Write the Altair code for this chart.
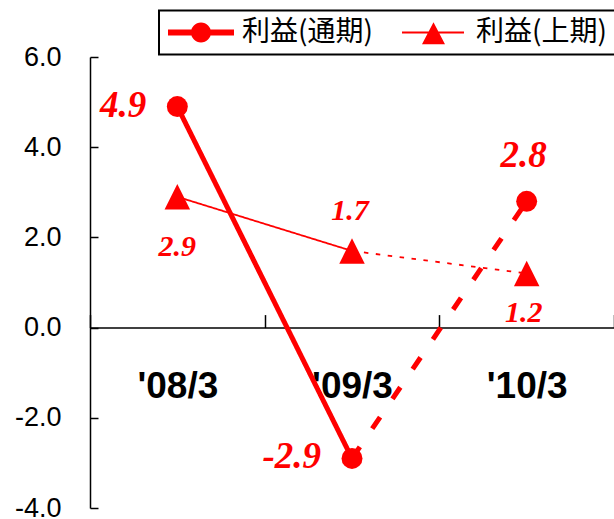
import altair as alt
import pandas as pd

# --- data -------------------------------------------------------------
categories = ["'08/3", "'09/3", "'10/3"]
full_year = [4.9, -2.9, 2.8]      # 利益(通期)
first_half = [2.9, 1.7, 1.2]      # 利益(上期)
series_names = ["利益(通期)", "利益(上期)"]
y_ticks = [-4.0, -2.0, 0.0, 2.0, 4.0, 6.0]

RED = "#ff0000"
W, H = 524, 451
Y_MIN, Y_MAX = -4.0, 6.0

series_values = {series_names[0]: full_year, series_names[1]: first_half}

points = pd.DataFrame(
    [
        {"series": s, "cat": c, "value": v, "pid": s + c}
        for s in series_names
        for c, v in zip(categories, series_values[s])
    ]
)

# each series: first segment actual (solid), second segment forecast (broken)
seg_rows = []
for s in series_names:
    vals = series_values[s]
    for i in range(len(categories) - 1):
        kind = "actual" if i == 0 else "forecast"
        for j in (i, i + 1):
            seg_rows.append(
                {"series": s, "cat": categories[j], "value": vals[j],
                 "seg": f"{s}-{i}", "key": f"{s}|{kind}"}
            )
segments = pd.DataFrame(seg_rows)

dash_keys = [f"{series_names[0]}|actual", f"{series_names[0]}|forecast",
             f"{series_names[1]}|actual", f"{series_names[1]}|forecast"]
dash_styles = [[1, 0], [14, 22], [1, 0], [4.5, 7.5]]
dash_widths = [5, 5, 1.8, 1.8]

# --- shared encodings ---------------------------------------------------
MINUS_FIX = "replace(format(datum.value, '.1f'), '\u2212', '-')"

x_enc = alt.X(
    "cat:N",
    sort=categories,
    bandPosition=0.5,
    scale=alt.Scale(type="band", domain=categories, paddingInner=0, paddingOuter=0),
    axis=alt.Axis(
        orient="top",
        offset=-H * Y_MAX / (Y_MAX - Y_MIN),   # axis line sits on y = 0
        title=None,
        grid=False,
        domainColor="black",
        domainWidth=1.5,
        tickColor="black",
        tickWidth=1.5,
        tickSize=13,
        tickBand="extent",
        labelAngle=0,
        labelFont="Liberation Sans",
        labelFontWeight="bold",
        labelFontSize=37,
        labelColor="black",
        labelPadding=-83,
        labelBaseline="alphabetic",
        labelOverlap=False,
    ),
)

y_enc = alt.Y(
    "value:Q",
    scale=alt.Scale(domain=[Y_MIN, Y_MAX], nice=False, zero=False),
    axis=alt.Axis(
        orient="right",
        offset=-W,                      # axis drawn on the left edge, ticks pointing in
        title=None,
        grid=False,
        values=y_ticks,
        labelExpr=MINUS_FIX,
        domainColor="black",
        domainWidth=1.5,
        tickColor="black",
        tickWidth=1.5,
        tickSize=8,
        labelPadding=-37,
        labelAlign="right",
        labelBaseline="middle",
        labelFont="Liberation Sans",
        labelFontSize=27,
        labelColor="black",
        labelFlush=False,
        labelOverlap=False,
    ),
)

# --- lines ----------------------------------------------------------------
lines = alt.Chart(segments).mark_line(color=RED).encode(
    x=x_enc,
    y=y_enc,
    detail="seg:N",
    strokeWidth=alt.StrokeWidth(
        "key:N",
        scale=alt.Scale(type="ordinal", domain=dash_keys, range=dash_widths),
        legend=None,
    ),
    strokeDash=alt.StrokeDash(
        "key:N",
        scale=alt.Scale(type="ordinal", domain=dash_keys, range=dash_styles),
        legend=None,
    ),
)

TRIANGLE = "M0,-1L1,1L-1,1Z"

circles = alt.Chart(points).mark_point(
    shape="circle", filled=True, size=440, color=RED, opacity=1
).encode(x=x_enc, y=y_enc).transform_filter(
    alt.datum.series == series_names[0]
)

triangles = alt.Chart(points).mark_point(
    shape=TRIANGLE, filled=True, size=650, color=RED, opacity=1
).encode(x=x_enc, y=y_enc).transform_filter(
    alt.datum.series == series_names[1]
)

# legend symbols: a line with its marker; drawn in units of 13 px from the
# nominal symbol centre so the symbol row stays short
LEG_A = ("M-1,-0.23H4.077V0.23H-1Z "
         "M0.769,0A0.769,0.769 0 1,1 2.308,0A0.769,0.769 0 1,1 0.769,0Z")
LEG_B = ("M-1,-0.07H3.769V0.07H-1Z "
         "M1.423,-0.79L2.308,0.9L0.538,0.9Z")

legend_layer = alt.Chart(points).transform_calculate(
    entry="datum.series"
).mark_point(
    filled=True, color=RED, size=0
).encode(
    x=x_enc,
    y=y_enc,
    shape=alt.Shape(
        "entry:N",
        scale=alt.Scale(domain=series_names, range=[LEG_A, LEG_B]),
        legend=alt.Legend(
            title=None,
            orient="none",
            legendX=69,
            legendY=-46.5,
            direction="horizontal",
            columns=2,
            columnPadding=28,
            padding=8,
            strokeColor="black",
            fillColor="white",
            symbolSize=676,
            symbolFillColor=RED,
            symbolStrokeWidth=0,
            symbolOpacity=1,
            labelFont="Noto Sans CJK JP",
            labelFontSize=28,
            labelColor="black",
            labelOffset=47,
        ),
    ),
)

# --- value labels -----------------------------------------------------------
placements = [
    dict(align="right", dx=-31, dy=10, size=37,
         ids=[series_names[0] + categories[0], series_names[0] + categories[1]]),
    dict(align="center", dx=-3, dy=-34, size=37,
         ids=[series_names[0] + categories[2]]),
    dict(align="center", dx=-2, dy=-31, size=30,
         ids=[series_names[1] + categories[1]]),
    dict(align="center", dx=0, dy=59, size=30,
         ids=[series_names[1] + categories[0]]),
    dict(align="center", dx=-3, dy=49, size=30,
         ids=[series_names[1] + categories[2]]),
]

label_layers = []
for p in placements:
    label_layers.append(
        alt.Chart(points)
        .transform_filter(alt.FieldOneOfPredicate(field="pid", oneOf=p["ids"]))
        .transform_calculate(label=MINUS_FIX)
        .mark_text(
            align=p["align"], baseline="alphabetic", dx=p["dx"], dy=p["dy"],
            font="Liberation Serif", fontStyle="italic", fontWeight="bold",
            fontSize=p["size"], color=RED,
        )
        .encode(x=x_enc, y=y_enc, text="label:N")
    )

chart = (
    alt.layer(lines, circles, triangles, legend_layer, *label_layers)
    .properties(
        width=W,
        height=H,
        padding={"left": 90, "top": 57, "right": 0, "bottom": 11},
        autosize=alt.AutoSizeParams(type="none"),
    )
    .configure_view(stroke=None)
    .configure_legend(strokeWidth=2)
)

chart.save("out.html", embed_options={"renderer": "svg", "actions": False})
